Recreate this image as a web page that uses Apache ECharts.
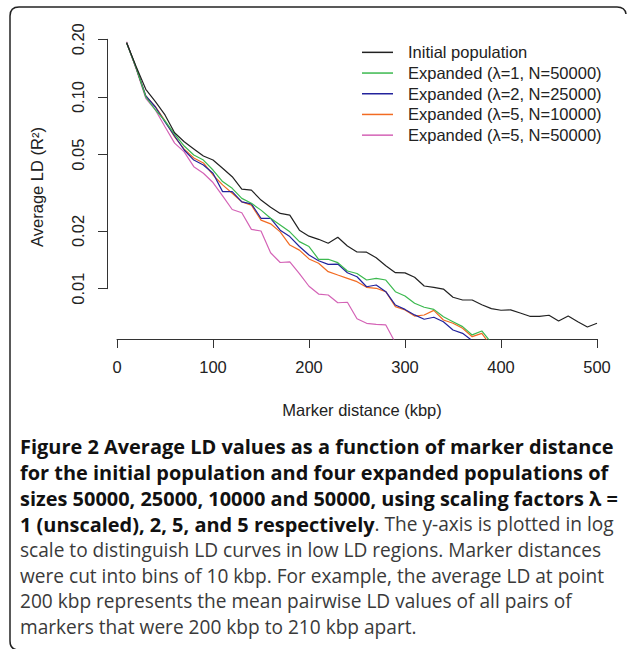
<!DOCTYPE html>
<html>
<head>
<meta charset="utf-8">
<script src="https://cdn.jsdelivr.net/npm/echarts@6/dist/echarts.min.js"></script>
<style>
html,body{margin:0;padding:0;background:#fff;}
#chart{width:627px;height:649px;}
</style>
</head>
<body>
<div id="chart"></div>
<script>
// ---- data (marker distance bins, kbp) ----
const distances = [10,20,30,40,50,60,70,80,90,100,110,120,130,140,150,160,170,180,190,200,
  210,220,230,240,250,260,270,280,290,300,310,320,330,340,350,360,370,380,390,400,
  410,420,430,440,450,460,470,480,490,500];

const initialPopulation = [0.192,0.144,0.1097,0.0945,0.0806,0.0651,0.0584,0.0536,0.0492,0.0469,
  0.0425,0.0384,0.0331,0.0327,0.029,0.0266,0.0247,0.0242,0.0202,0.0188,
  0.0181,0.01725,0.01854,0.0167,0.01554,0.0155,0.01451,0.01318,0.01212,0.0121,
  0.01147,0.01033,0.01017,0.00996,0.00902,0.00873,0.00873,0.00825,0.00787,0.00772,
  0.00775,0.00747,0.00718,0.00718,0.00727,0.00678,0.0072,0.00673,0.00631,0.0066];

const expandedL1N50000 = [0.192,0.1417,0.100,0.0856,0.075,0.0641,0.0555,0.0498,0.0469,0.0416,
  0.0362,0.0334,0.0296,0.0279,0.0257,0.0233,0.0215,0.0198,0.0176,0.0166,
  0.01424,0.01424,0.01367,0.01237,0.0120,0.0111,0.01133,0.0111,0.00965,0.00916,
  0.0084,0.0080,0.0078,0.00714,0.00673,0.00634,0.00574,0.00602,0.00522];

const expandedL2N25000 = [0.192,0.1417,0.1012,0.0887,0.0741,0.0626,0.0529,0.0469,0.0442,0.040,
  0.0321,0.0321,0.0284,0.0277,0.0233,0.0233,0.0202,0.0187,0.0166,0.0150,
  0.0140,0.0134,0.01345,0.01212,0.01155,0.01024,0.01046,0.00965,0.00822,0.0078,
  0.0073,0.00693,0.0071,0.00673,0.00609,0.00585,0.00536];

const expandedL5N10000 = [0.192,0.1417,0.1012,0.089,0.075,0.0619,0.0535,0.0481,0.0453,0.0392,
  0.0348,0.0315,0.0284,0.0273,0.0228,0.0218,0.0198,0.0169,0.0159,0.0143,
  0.01357,0.01227,0.01179,0.01133,0.01088,0.01017,0.01005,0.00965,0.00806,0.00774,
  0.0072,0.00729,0.00771,0.00687,0.0066,0.00622,0.00562,0.00585,0.0050];

const expandedL5N50000 = [0.1943,0.140,0.0985,0.0856,0.070,0.0575,0.0517,0.0433,0.040,0.0358,
  0.0305,0.0259,0.0249,0.0204,0.0200,0.0154,0.0137,0.0138,0.0120,0.0103,
  0.00938,0.00927,0.00845,0.0085,0.00697,0.0066,0.00652,0.00647,0.00522];

const seriesNames = ['Initial population','Expanded (\u03bb=1, N=50000)','Expanded (\u03bb=2, N=25000)',
  'Expanded (\u03bb=5, N=10000)','Expanded (\u03bb=5, N=50000)'];
const seriesValues = [initialPopulation, expandedL1N50000, expandedL2N25000, expandedL5N10000, expandedL5N50000];
const seriesColors = ['#222222','#3cb94f','#23239c','#f26b22','#d463b6'];

const yTickValues = [0.01,0.02,0.05,0.10,0.20];
const xTickLabels = [0,100,200,300,400,500];

const captionLines = [
  [{b:'Figure 2 Average LD values as a function of marker distance'}],
  [{b:'for the initial population and four expanded populations of'}],
  [{b:'sizes 50000, 25000, 10000 and 50000, using scaling factors \u03bb ='}],
  [{b:'1 (unscaled), 2, 5, and 5 respectively'},{r:'. The y-axis is plotted in log'}],
  [{r:'scale to distinguish LD curves in low LD regions. Marker distances'}],
  [{r:'were cut into bins of 10 kbp. For example, the average LD at point'}],
  [{r:'200 kbp represents the mean pairwise LD values of all pairs of'}],
  [{r:'markers that were 200 kbp to 210 kbp apart.'}]
];

// ---- chart ----
const chart = echarts.init(document.getElementById('chart'), null, {renderer:'svg'});
const FONT = 'Liberation Sans, Arial, Helvetica, sans-serif';
const CAPFONT = 'Open Sans, Noto Sans, sans-serif';

const series = seriesNames.map((name, i) => ({
  name: name,
  type: 'line',
  xAxisIndex: 0, yAxisIndex: 0,
  symbol: 'none',
  clip: true,
  lineStyle: {color: seriesColors[i], width: 1.2},
  itemStyle: {color: seriesColors[i]},
  emphasis: {disabled: true},
  z: 10 - i,
  data: seriesValues[i].map((v, k) => [distances[k], v])
}));

const captionGraphics = captionLines.map((parts, i) => {
  let txt = parts.map(p => p.b !== undefined ? '{b|' + p.b + '}' : '{r|' + p.r + '}').join('');
  return {
    type: 'text',
    left: 20,
    top: 436.5 + i * 25.9,
    style: {
      text: txt,
      rich: {
        b: {fontFamily: CAPFONT, fontWeight: 'bold', fontSize: 19.95, fill: '#111', lineHeight: 26},
        r: {fontFamily: CAPFONT, fontWeight: 'normal', fontSize: 19.1, fill: '#3a3a3a', lineHeight: 26}
      }
    }
  };
});

const frameStyle = {fill: 'none', stroke: '#222', lineWidth: 1.5};
const frameGraphics = [
  {type: 'polyline', silent: true, shape: {points: [[10, 641], [10, 16]]}, style: frameStyle},
  {type: 'polyline', silent: true, shape: {points: [[19, 7], [617, 7]]}, style: frameStyle},
  {type: 'bezierCurve', silent: true, shape: {x1: 10, y1: 16, cpx1: 10, cpy1: 7, x2: 19, y2: 7}, style: frameStyle},
  {type: 'bezierCurve', silent: true, shape: {x1: 617, y1: 7, cpx1: 625, cpy1: 7, x2: 626, y2: 14}, style: frameStyle},
  {type: 'bezierCurve', silent: true, shape: {x1: 10, y1: 641, cpx1: 10, cpy1: 650, x2: 19, y2: 650}, style: frameStyle}
];

const option = {
  backgroundColor: '#ffffff',
  animation: false,
  textStyle: {fontFamily: FONT},
  legend: {
    left: 362,
    top: 42,
    padding: 0,
    orient: 'vertical',
    icon: 'rect',
    itemWidth: 31,
    itemHeight: 1.5,
    itemGap: 0,
    selectedMode: false,
    textStyle: {fontFamily: FONT, fontSize: 16.5, color: '#222', lineHeight: 20.7, padding: [0,0,0,10]},
    data: seriesNames
  },
  grid: [
    {left: 117, right: 30, top: 35, height: 304},
    {left: 107, top: 39.3, height: 249.4, width: 100}
  ],
  xAxis: [
    {
      type: 'value', gridIndex: 0, min: 0, max: 500, interval: 100,
      axisLine: {show: true, lineStyle: {color: '#333', width: 1}},
      axisTick: {show: true, length: 9, lineStyle: {color: '#333'}},
      axisLabel: {fontFamily: FONT, fontSize: 16.5, color: '#222', margin: 19},
      splitLine: {show: false},
      name: 'Marker distance (kbp)', nameLocation: 'middle', nameGap: 62,
      nameTextStyle: {fontFamily: FONT, fontSize: 16.5, color: '#222', padding: [0,0,0,10]}
    },
    {type: 'value', gridIndex: 1, show: false, min: 0, max: 1}
  ],
  yAxis: [
    {
      type: 'log', logBase: 10, gridIndex: 0, min: 0.005466, max: 0.2106,
      axisLine: {show: false}, axisTick: {show: false}, axisLabel: {show: false},
      splitLine: {show: false},
      name: 'Average LD (R\u00b2)', nameLocation: 'middle', nameRotate: 90, nameGap: 72,
      nameTextStyle: {fontFamily: FONT, fontSize: 16.5, color: '#222'}
    },
    {
      type: 'log', logBase: 10, gridIndex: 1, min: 0.01, max: 0.2,
      axisLine: {show: true, lineStyle: {color: '#333', width: 1}},
      axisTick: {show: true, length: 9, lineStyle: {color: '#333'}, customValues: yTickValues},
      axisLabel: {show: true, rotate: 90, fontFamily: FONT, fontSize: 16.5, color: '#222', margin: 21,
        customValues: yTickValues, formatter: v => Number(v).toFixed(2)},
      splitLine: {show: false}
    }
  ],
  series: series,
  graphic: frameGraphics.concat(captionGraphics)
};
chart.setOption(option);
</script>
</body>
</html>
